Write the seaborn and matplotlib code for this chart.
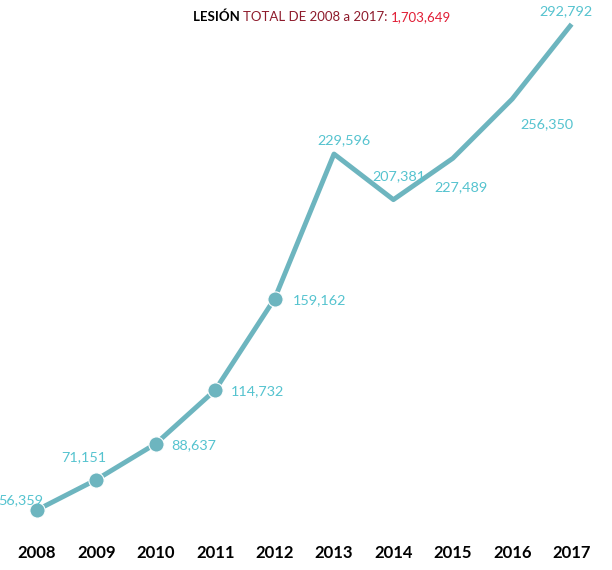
import numpy as np
import pandas as pd
import matplotlib
matplotlib.use("Agg")
import matplotlib.pyplot as plt
import seaborn as sns

sns.set_style("white")
plt.rcParams['font.family'] = ['Lato', 'DejaVu Sans']

years = [2008, 2009, 2010, 2011, 2012, 2013, 2014, 2015, 2016, 2017]
values = [56359, 71151, 88637, 114732, 159162, 229596, 207381, 227489, 256350, 292792]
marker_years = years[:5]
total = 1703649

line_color = "#6db5bf"
label_color = "#55c3cf"

df = pd.DataFrame({"idx": np.arange(len(years)), "year": years, "value": values})

fig = plt.figure(figsize=(6.12, 5.70), dpi=100)
ax = fig.add_axes([0, 0.0614, 1, 0.9386])

sns.lineplot(data=df, x="idx", y="value", color=line_color, linewidth=3.5,
             ax=ax, solid_capstyle="butt")
sns.scatterplot(data=df[df["year"].isin(marker_years)], x="idx", y="value",
                color=line_color, s=120, edgecolor="white", linewidth=0.8,
                ax=ax, zorder=3)

# label offsets (points) and alignment per year
offsets = {
    2008: (-12, 7, "center"),
    2009: (-9, 16, "center"),
    2010: (11, -1, "left"),
    2011: (11, -1, "left"),
    2012: (13, -1, "left"),
    2013: (7, 10, "center"),
    2014: (4, 17, "center"),
    2015: (6, -21, "center"),
    2016: (25, -18, "center"),
    2017: (-4, 9, "center"),
}
for i, (yr, v) in enumerate(zip(years, values)):
    dx, dy, ha = offsets[yr]
    ax.annotate(f"{v:,}", (i, v), xytext=(dx, dy), textcoords="offset points",
                ha=ha, va="center", color=label_color, fontsize=10.4)

ax.set_xlim(-0.623, 9.68)
ax.set_ylim(44194, 304534)
ax.set_xticks(df["idx"])
ax.set_xticklabels(years, fontsize=12, fontweight="bold", color="black")
ax.tick_params(axis="x", length=0, pad=7)
ax.set_yticks([])
ax.set_xlabel("")
ax.set_ylabel("")
sns.despine(ax=ax, left=True, bottom=True)

# title built from coloured pieces
parts = [("LESIÓN ", "black", "bold"),
         ("TOTAL DE 2008 a 2017: ", "#8e1b2c", "normal"),
         (f"{total:,}", "#e11d35", "normal")]
renderer = fig.canvas.get_renderer()
x = 193 / 612
for txt, col, w in parts:
    t = fig.text(x, 1 - 17 / 570, txt, color=col, fontweight=w, fontsize=9.5,
                 ha="left", va="center")
    bb = t.get_window_extent(renderer=renderer)
    x += bb.width / fig.bbox.width

fig.savefig("out.png", dpi=100)
